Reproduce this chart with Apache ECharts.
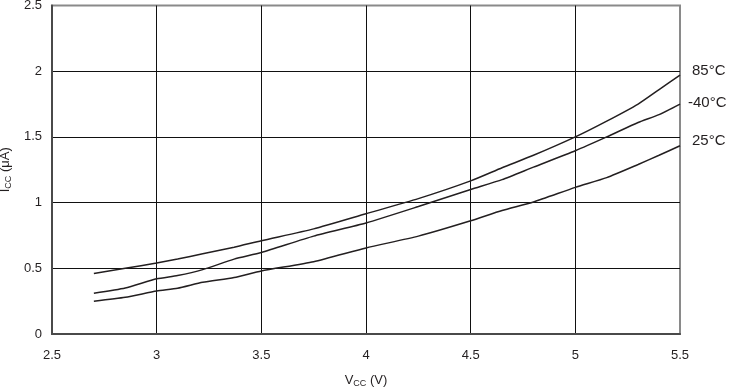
<!DOCTYPE html>
<html>
<head>
<meta charset="utf-8">
<script src="https://cdn.jsdelivr.net/npm/echarts@6/dist/echarts.min.js"></script>
<style>html,body{margin:0;padding:0;background:#fff}#c{width:732px;height:388px}</style>
</head>
<body>
<div id="c"></div>
<script>
var voltage = [2.7, 2.85, 3.0, 3.1, 3.22, 3.37, 3.5, 3.75, 4.0, 4.25, 4.5, 4.65, 4.8, 5.0, 5.15, 5.3, 5.4, 5.5];
var icc85  = [0.46, 0.50, 0.54, 0.57, 0.61, 0.66, 0.71, 0.80, 0.915, 1.03, 1.165, 1.265, 1.36, 1.50, 1.62, 1.75, 1.86, 1.97];
var iccM40 = [0.31, 0.35, 0.42, 0.445, 0.49, 0.57, 0.62, 0.745, 0.845, 0.97, 1.10, 1.175, 1.27, 1.395, 1.50, 1.61, 1.67, 1.75];
var icc25  = [0.25, 0.28, 0.327, 0.348, 0.393, 0.43, 0.48, 0.55, 0.655, 0.745, 0.862, 0.94, 1.005, 1.116, 1.19, 1.29, 1.36, 1.433];
var seriesNames = ['85°C', '-40°C', '25°C'];
var xTicks = [2.5, 3, 3.5, 4, 4.5, 5, 5.5];
var yTicks = [0, 0.5, 1, 1.5, 2, 2.5];

function pairs(ys) { return voltage.map(function (v, i) { return [v, ys[i]]; }); }

var font = 'Liberation Sans, Arial, sans-serif';
var txt = '#231f20';
var chart = echarts.init(document.getElementById('c'));

function mkSeries(name, ys, off) {
  return {
    name: name, type: 'line', data: pairs(ys), showSymbol: false, smooth: 0.2,
    lineStyle: { color: '#231f20', width: 1.5 },
    endLabel: { show: true, formatter: name, color: txt, fontFamily: font, fontSize: 15, offset: off, distance: 8 },
    emphasis: { disabled: true }, animation: false
  };
}

chart.setOption({
  animation: false,
  grid: { left: 52, right: 52, top: 5.5, bottom: 54, outerBoundsMode: 'none', containLabel: false,
          show: true, borderColor: '#8a8a8a', borderWidth: 2 },
  xAxis: {
    type: 'value', min: xTicks[0], max: xTicks[xTicks.length - 1], interval: 0.5,
    axisLine: { show: true, lineStyle: { color: '#4a4a4a', width: 2 } },
    axisTick: { show: false },
    axisLabel: { color: txt, fontFamily: font, fontSize: 13, margin: 15 },
    splitLine: { show: true, showMinLine: false, showMaxLine: false, lineStyle: { color: '#111', width: 1 } },
    name: '{m|V}{s|CC}{m| (V)}', nameLocation: 'middle', nameGap: 38,
    nameTextStyle: { color: txt, fontFamily: font, fontSize: 13,
      rich: { m: { fontSize: 13, fontFamily: font, color: txt, lineHeight: 16 }, s: { fontSize: 9, fontFamily: font, color: txt, verticalAlign: 'bottom', lineHeight: 16 } } }
  },
  yAxis: {
    type: 'value', min: yTicks[0], max: yTicks[yTicks.length - 1], interval: 0.5,
    axisLine: { show: true, lineStyle: { color: '#4a4a4a', width: 2 } },
    axisTick: { show: false },
    axisLabel: { color: txt, fontFamily: font, fontSize: 13, margin: 10 },
    splitLine: { show: true, showMinLine: false, showMaxLine: false, lineStyle: { color: '#111', width: 1 } },
    name: '{m|I}{s|CC}{m| (μA)}', nameLocation: 'middle', nameGap: 38, nameRotate: 90,
    nameTextStyle: { color: txt, fontFamily: font, fontSize: 13,
      rich: { m: { fontSize: 13, fontFamily: font, color: txt, lineHeight: 16 }, s: { fontSize: 9, fontFamily: font, color: txt, verticalAlign: 'bottom', lineHeight: 16 } } }
  },
  series: [
    mkSeries(seriesNames[0], icc85, [4, -4]),
    mkSeries(seriesNames[1], iccM40, [0, -1]),
    mkSeries(seriesNames[2], icc25, [4, -5])
  ]
});
</script>
</body>
</html>
